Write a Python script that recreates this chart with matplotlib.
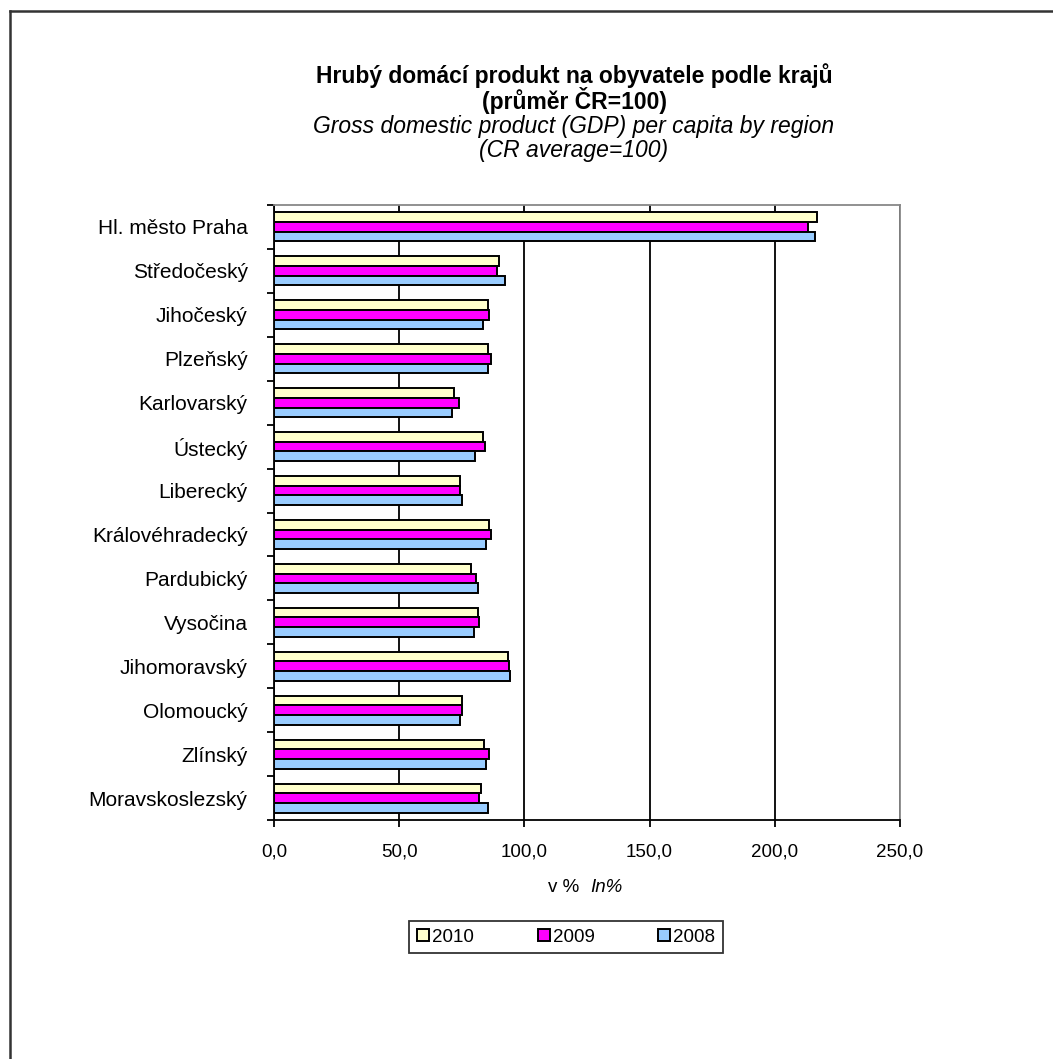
import matplotlib
matplotlib.use("Agg")
import matplotlib.pyplot as plt
from matplotlib.lines import Line2D
import numpy as np

plt.rcParams['font.family'] = ['Liberation Sans', 'DejaVu Sans']

regions = ["Hl. město Praha", "Středočeský", "Jihočeský", "Plzeňský", "Karlovarský",
           "Ústecký", "Liberecký", "Královéhradecký", "Pardubický", "Vysočina",
           "Jihomoravský", "Olomoucký", "Zlínský", "Moravskoslezský"]
v2010 = [216.7, 89.7, 85.3, 85.3, 71.8, 83.3, 74.3, 85.7, 78.8, 81.3, 93.4, 74.9, 84.0, 82.6]
v2009 = [213.3, 89.0, 86.0, 86.6, 73.7, 84.1, 74.3, 86.5, 80.8, 82.0, 94.0, 74.9, 85.8, 82.0]
v2008 = [215.9, 92.3, 83.4, 85.3, 71.1, 80.1, 74.9, 84.5, 81.3, 80.0, 94.2, 74.4, 84.6, 85.3]
xticks = [0, 50, 100, 150, 200, 250]
xtick_labels = ["0,0", "50,0", "100,0", "150,0", "200,0", "250,0"]

W, H = 1053, 1059
fig = plt.figure(figsize=(W / 100, H / 100), dpi=100)
ax = fig.add_axes([274 / W, 1 - 820 / H, (900 - 274) / W, (820 - 205) / H])

y = np.arange(len(regions))
h = 0.22
ax.barh(y - h, v2010, height=h, color='#FFFFCC', edgecolor='black', lw=1.4, label='2010', zorder=3)
ax.barh(y, v2009, height=h, color='#FF00FF', edgecolor='black', lw=1.4, label='2009', zorder=3)
ax.barh(y + h, v2008, height=h, color='#99CCFF', edgecolor='black', lw=1.4, label='2008', zorder=3)

ax.set_xlim(0, 250)
ax.set_ylim(len(regions) - 0.5, -0.5)
ax.set_xticks(xticks)
ax.set_xticklabels(xtick_labels, fontsize=13.5)
ax.set_yticks(y)
ax.set_yticklabels(regions, fontsize=15)
ax.set_yticks(np.arange(len(regions) + 1) - 0.5, minor=True)
ax.tick_params(axis='y', which='major', length=0, pad=19)
ax.tick_params(axis='y', which='minor', length=5, direction='out', width=1.3)
ax.tick_params(axis='x', length=5, width=1.3, pad=12)
ax.xaxis.grid(True, color='black', lw=1.3, zorder=0)
ax.set_axisbelow(True)
for s in ['left', 'bottom']:
    ax.spines[s].set_color('black')
    ax.spines[s].set_linewidth(1.3)
for s in ['top', 'right']:
    ax.spines[s].set_color('#888888')
    ax.spines[s].set_linewidth(1.3)

# titles
fig.text(574 / W, 1 - 76 / H, "Hrubý domácí produkt na obyvatele podle krajů",
         ha='center', va='center', fontsize=16.5, fontweight='bold')
fig.text(574 / W, 1 - 101 / H, "(průměr ČR=100)",
         ha='center', va='center', fontsize=16.5, fontweight='bold')
fig.text(574 / W, 1 - 126 / H, "Gross domestic product (GDP) per capita by region",
         ha='center', va='center', fontsize=16.5, style='italic')
fig.text(574 / W, 1 - 151 / H, "(CR average=100)",
         ha='center', va='center', fontsize=16.5, style='italic')

# axis label
fig.text(590 / W, 1 - 887 / H, "v %  ", ha='right', va='center', fontsize=13.5)
fig.text(590 / W, 1 - 887 / H, "In%", ha='left', va='center', fontsize=13.5, style='italic')

handles, labels = ax.get_legend_handles_labels()
leg = fig.legend(handles, labels, loc='center', bbox_to_anchor=(566 / W, 1 - 937 / H),
                 ncol=3, fontsize=13.5, frameon=True, fancybox=False, edgecolor='black',
                 handlelength=0.65, handleheight=0.65, handletextpad=0.15, columnspacing=3.4,
                 borderpad=0.4, borderaxespad=0)
leg.get_frame().set_linewidth(1.3)

# outer frame (left and top edges visible)
fig.add_artist(Line2D([9.5 / W, 9.5 / W], [0, 1 - 11 / H], color='#333333', lw=1.8,
                      transform=fig.transFigure))
fig.add_artist(Line2D([9.5 / W, 1], [1 - 11 / H, 1 - 11 / H], color='#333333', lw=1.8,
                      transform=fig.transFigure))

fig.savefig("out.png", dpi=100)
